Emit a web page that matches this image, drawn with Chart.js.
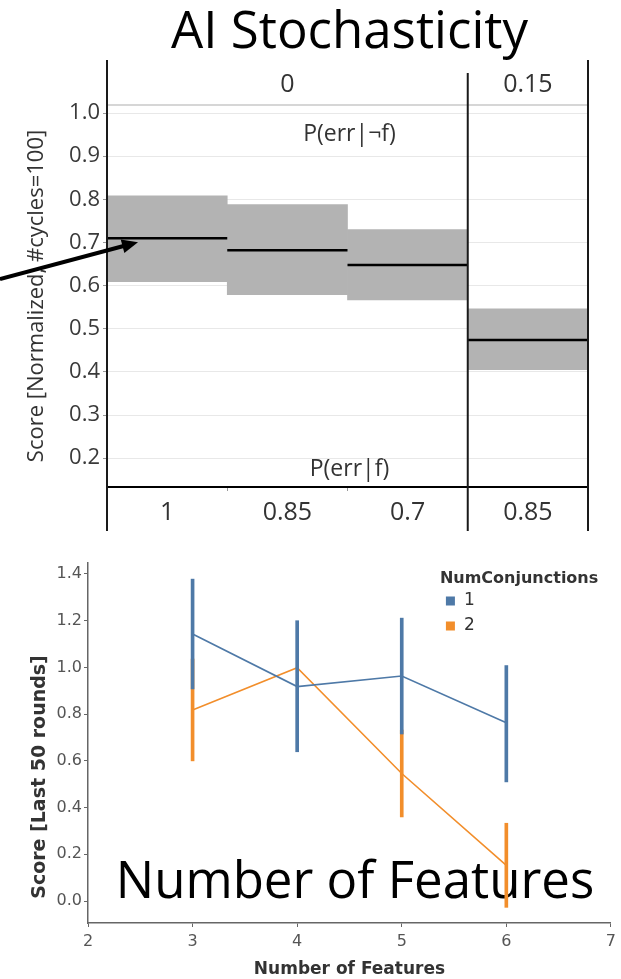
<!DOCTYPE html>
<html>
<head>
<meta charset="utf-8">
<script src="https://cdn.jsdelivr.net/npm/chart.js@4.4.1/dist/chart.umd.min.js"></script>
<style>
  html, body { margin: 0; padding: 0; background: #fff; }
  #wrap { position: relative; width: 621px; height: 979px; overflow: hidden; }
  canvas { position: absolute; left: 0; }
</style>
</head>
<body>
<div id="wrap">
  <canvas id="graph1" width="621" height="545" style="top:0"></canvas>
  <canvas id="graph2" width="621" height="434" style="top:545px"></canvas>
</div>
<script>
// Top panel: score by P(err|f), faceted by P(err|¬f)
const errF = ['1', '0.85', '0.7', '0.85'];
const errNotF = ['0', '0', '0', '0.15'];
const scoreMean = [0.71, 0.682, 0.648, 0.474];
const scoreLow = [0.609, 0.579, 0.567, 0.405];
const scoreHigh = [0.808, 0.788, 0.73, 0.546];
const scoreTicks = [0.2, 0.3, 0.4, 0.5, 0.6, 0.7, 0.8, 0.9, 1.0];

// Bottom panel: score vs number of features, per NumConjunctions
const numFeatures = [3, 4, 5, 6];
const featureTicks = [2, 3, 4, 5, 6, 7];
const conj1Score = [1.143, 0.918, 0.963, 0.763];
const conj1Low = [0.908, 0.639, 0.715, 0.51];
const conj1High = [1.378, 1.2, 1.211, 1.008];
const conj2Score = [0.818, 0.999, 0.546, 0.153];
const conj2Low = [0.6, null, 0.36, -0.027];
const conj2High = [1.036, null, 0.732, 0.333];
const roundTicks = [0, 0.2, 0.4, 0.6, 0.8, 1.0, 1.2, 1.4];

const blue = '#4e79a7';
const orange = '#f28e2b';

function seg(ctx, x1, y1, x2, y2) {
    ctx.beginPath();
    ctx.moveTo(x1, y1);
    ctx.lineTo(x2, y2);
    ctx.stroke();
}

// draws title, facet strip, mean lines, separators and the arrow
const facetPlugin = {
    id: 'facets',
    afterDraw(chart) {
        const { ctx, chartArea: a, scales: { y } } = chart;
        const bars = chart.getDatasetMeta(0).data;
        ctx.save();
        ctx.fillStyle = '#000';
        ctx.textAlign = 'center';
        ctx.textBaseline = 'alphabetic';
        ctx.font = '51px "Open Sans"';
        ctx.fillText('AI Stochasticity', (a.left + a.right) / 2 + 2, 48);

        ctx.strokeStyle = '#c8c8c8';
        ctx.lineWidth = 1.5;
        seg(ctx, a.left, a.top, a.right, a.top);

        ctx.strokeStyle = '#000';
        ctx.lineWidth = 2.5;
        bars.forEach((b, i) => {
            const yy = y.getPixelForValue(scoreMean[i]);
            seg(ctx, b.x - b.width / 2, yy, b.x + b.width / 2, yy);
        });

        ctx.fillStyle = '#333';
        ctx.textBaseline = 'middle';
        ctx.font = '23px "Open Sans"';
        const cx = (a.left + a.right) / 2 + 2;
        ctx.fillText('P(err|\u00acf)', cx, a.top + 29);
        ctx.fillText('P(err|f)', cx, a.bottom - 18);

        ctx.strokeStyle = '#1a1a1a';
        ctx.lineWidth = 2;
        seg(ctx, a.left, a.top - 45, a.left, a.bottom + 44);
        ctx.font = '25px "Open Sans"';
        let start = 0;
        for (let i = 1; i <= errNotF.length; i++) {
            if (i === errNotF.length || errNotF[i] !== errNotF[start]) {
                const l = bars[start].x - bars[start].width / 2;
                const r = bars[i - 1].x + bars[i - 1].width / 2;
                ctx.fillText(errNotF[start], (l + r) / 2, a.top - 20);
                const last = i === errNotF.length;
                seg(ctx, last ? a.right : r, a.top - (last ? 45 : 32), last ? a.right : r, a.bottom + 44);
                start = i;
            }
        }

        // arrow pointing at the first mean line
        const tipX = bars[0].x - bars[0].width / 2 + 31;
        const tipY = y.getPixelForValue(scoreMean[0]) + 4;
        const tailX = 0, tailY = tipY + 37;
        const len = Math.hypot(tipX - tailX, tipY - tailY);
        const ux = (tipX - tailX) / len, uy = (tipY - tailY) / len;
        ctx.lineWidth = 4;
        ctx.strokeStyle = '#000';
        seg(ctx, tailX, tailY, tipX - ux * 12, tipY - uy * 12);
        ctx.fillStyle = '#000';
        ctx.beginPath();
        ctx.moveTo(tipX, tipY);
        ctx.lineTo(tipX - ux * 16 - uy * 7, tipY - uy * 16 + ux * 7);
        ctx.lineTo(tipX - ux * 16 + uy * 7, tipY - uy * 16 - ux * 7);
        ctx.closePath();
        ctx.fill();
        ctx.restore();
    }
};

const ctx1 = document.getElementById('graph1').getContext('2d');
new Chart(ctx1, {
    type: 'bar',
    data: {
        labels: errF,
        datasets: [{
            label: 'Score',
            data: scoreLow.map((lo, i) => [lo, scoreHigh[i]]),
            backgroundColor: '#b3b3b3',
            borderWidth: 0,
            categoryPercentage: 1,
            barPercentage: 1
        }]
    },
    options: {
        responsive: false,
        animation: false,
        layout: { padding: { top: 105, right: 33, left: 0, bottom: 0 } },
        plugins: { legend: { display: false }, tooltip: { enabled: false } },
        scales: {
            x: {
                grid: { drawOnChartArea: false, tickLength: 4, tickColor: '#999', offset: true },
                border: { color: '#000', width: 2 },
                ticks: { color: '#333', font: { family: 'Open Sans', size: 25 }, padding: 7 },
                afterFit: s => { s.height = 58; }
            },
            y: {
                min: 0.1333,
                max: 1.0186,
                z: 1,
                afterBuildTicks: s => { s.ticks = scoreTicks.map(v => ({ value: v })); },
                grid: { color: '#e8e8e8', tickColor: '#999', tickLength: 4 },
                border: { display: false },
                ticks: {
                    color: '#3a3a3a',
                    font: { family: 'Open Sans', size: 22 },
                    padding: 3,
                    callback: v => v.toFixed(1)
                },
                title: {
                    display: true,
                    text: 'Score [Normalized, #cycles=100]',
                    color: '#333',
                    font: { family: 'Open Sans', size: 22 },
                    padding: { top: 24, bottom: 0 }
                },
                afterFit: s => { s.width = 107; }
            }
        }
    },
    plugins: [facetPlugin]
});

// legend, y title and the big caption of the bottom panel
const featurePlugin = {
    id: 'featureText',
    beforeDatasetsDraw(chart) {
        const { ctx, chartArea: a } = chart;
        ctx.save();
        ctx.fillStyle = '#000';
        ctx.textAlign = 'center';
        ctx.textBaseline = 'alphabetic';
        ctx.font = '51px "Open Sans"';
        ctx.fillText('Number of Features', 355, a.bottom - 25);
        ctx.restore();
    },
    afterDraw(chart) {
        const { ctx, chartArea: a } = chart;
        ctx.save();
        ctx.translate(40, a.bottom - 146);
        ctx.rotate(-Math.PI / 2);
        ctx.textAlign = 'center';
        ctx.textBaseline = 'middle';
        ctx.fillStyle = '#333';
        ctx.font = '600 19px "DejaVu Sans"';
        ctx.fillText('Score [Last 50 rounds]', 0, 0);
        ctx.restore();

        ctx.save();
        ctx.textBaseline = 'middle';
        ctx.textAlign = 'left';
        ctx.fillStyle = '#333';
        ctx.font = 'bold 16px "DejaVu Sans"';
        ctx.fillText('NumConjunctions', a.right - 171, a.top + 16);
        ctx.font = '17px "DejaVu Sans"';
        chart.data.datasets.filter(d => d.type === 'line').forEach((d, k) => {
            const yy = a.top + 38 + 25 * k;
            ctx.fillStyle = d.borderColor;
            ctx.fillRect(a.right - 165, yy - 4.5, 9, 9);
            ctx.fillStyle = '#333';
            ctx.fillText(d.label, a.right - 147, yy);
        });
        ctx.restore();
    }
};

const ctx2 = document.getElementById('graph2').getContext('2d');
new Chart(ctx2, {
    type: 'line',
    data: {
        datasets: [
            {
                type: 'line',
                label: '1',
                data: numFeatures.map((x, i) => ({ x, y: conj1Score[i] })),
                borderColor: blue,
                borderWidth: 1.6,
                pointRadius: 0
            },
            {
                type: 'bar',
                label: '1 range',
                data: numFeatures.map((x, i) => ({ x, y: [conj1Low[i], conj1High[i]] })),
                backgroundColor: blue,
                barThickness: 3,
                grouped: false
            },
            {
                type: 'line',
                label: '2',
                data: numFeatures.map((x, i) => ({ x, y: conj2Score[i] })),
                borderColor: orange,
                borderWidth: 1.6,
                pointRadius: 0
            },
            {
                type: 'bar',
                label: '2 range',
                data: numFeatures.map((x, i) => ({ x, y: conj2Low[i] === null ? null : [conj2Low[i], conj2High[i]] })),
                backgroundColor: orange,
                barThickness: 3,
                grouped: false
            }
        ]
    },
    options: {
        responsive: false,
        animation: false,
        layout: { padding: { top: 18, right: 5, left: 0, bottom: 0 } },
        plugins: { legend: { display: false }, tooltip: { enabled: false } },
        scales: {
            x: {
                type: 'linear',
                min: 2,
                max: 7,
                offset: false,
                afterBuildTicks: s => { s.ticks = featureTicks.map(v => ({ value: v })); },
                grid: { drawOnChartArea: false, offset: false, tickLength: 4, tickColor: '#666' },
                border: { color: '#666', width: 1.5 },
                ticks: { color: '#555', font: { family: 'DejaVu Sans', size: 16 }, padding: 5 },
                title: {
                    display: true,
                    text: 'Number of Features',
                    color: '#333',
                    font: { family: 'DejaVu Sans', size: 17, weight: 'bold', lineHeight: 1.1 },
                    padding: { top: 0, bottom: 0 }
                },
                afterFit: s => { s.height = 56; }
            },
            y: {
                min: -0.094,
                max: 1.447,
                afterBuildTicks: s => { s.ticks = roundTicks.map(v => ({ value: v })); },
                grid: { drawOnChartArea: false, tickLength: 4, tickColor: '#666' },
                border: { color: '#666', width: 1.5 },
                ticks: {
                    color: '#555',
                    font: { family: 'DejaVu Sans', size: 16 },
                    padding: 2,
                    callback: v => v.toFixed(1)
                },
                afterFit: s => { s.width = 88; }
            }
        }
    },
    plugins: [featurePlugin]
});
</script>
</body>
</html>
